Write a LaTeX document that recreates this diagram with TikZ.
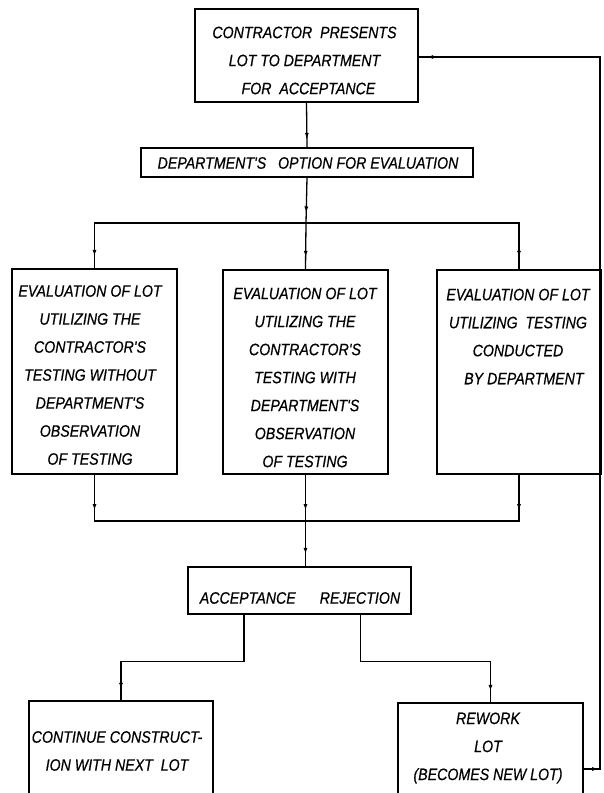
\documentclass[tikz,border=0pt]{standalone}
\usepackage{fontspec}
\newfontfamily\lett{Liberation Sans}[FakeStretch=0.86, FakeBold=0.6]
\usetikzlibrary{decorations.markings,arrows.meta}
\tikzset{
  fl/.style={line width=1.3pt},
  boxn/.style={draw, line width=1.3pt, inner sep=0pt},
  txt/.style={inner sep=0pt, align=center,
    font=\lett\itshape\fontsize{16.5}{28}\selectfont},
  arr/.style={postaction={decorate, decoration={markings,
    mark=at position #1 with {\arrow{Latex[length=6.5pt,width=4pt]}}}}}
}
\begin{document}
\begin{tikzpicture}[x=1pt,y=-1pt]
\useasboundingbox (0,0) rectangle (604,793);
\clip (0,0) rectangle (604,793);
% boxes
\node[boxn, minimum width=223pt, minimum height=93pt] (top) at (306.5,55.5) {};
\node[boxn, minimum width=332pt, minimum height=29pt] (opt) at (307,162.5) {};
\node[boxn, minimum width=165pt, minimum height=205pt] (e1) at (94.5,371.5) {};
\node[boxn, minimum width=165pt, minimum height=204pt] (e2) at (305.5,372) {};
\node[boxn, minimum width=164pt, minimum height=204pt] (e3) at (519,372) {};
\node[boxn, minimum width=223pt, minimum height=47pt] (acc) at (299.5,590.5) {};
\node[boxn, minimum width=184pt, minimum height=100pt] (cont) at (121,751) {};
\node[boxn, minimum width=185pt, minimum height=92pt] (rew) at (490.5,749) {};
% texts
\node[txt] (toptext) at (304.5,60.5)
  {CONTRACTOR\ \ PRESENTS\\LOT TO DEPARTMENT\\\ \ FOR\ \ ACCEPTANCE};
\node[txt] (opttext) at (308,163)
  {DEPARTMENT'S\ \ \ OPTION FOR EVALUATION};
\node[txt] (e1text) at (90,375)
  {EVALUATION OF LOT\\UTILIZING THE\\CONTRACTOR'S\\TESTING WITHOUT\\DEPARTMENT'S\\OBSERVATION\\OF TESTING};
\node[txt] (e2text) at (305,377.5)
  {EVALUATION OF LOT\\UTILIZING THE\\CONTRACTOR'S\\TESTING WITH\\DEPARTMENT'S\\OBSERVATION\\OF TESTING};
\node[txt] (e3text) at (518,336.5)
  {EVALUATION OF LOT\\UTILIZING\ \ TESTING\\CONDUCTED\\\ \ \ BY DEPARTMENT};
\node[txt] (acctext) at (300,598)
  {ACCEPTANCE\hspace{24pt}REJECTION};
\node[txt] (conttext) at (117,751)
  {CONTINUE CONSTRUCT-\\ION WITH NEXT\ \ LOT};
\node[txt] (rewtext) at (488,748)
  {REWORK\\LOT\\(BECOMES NEW LOT)};
% connectors
\coordinate (j1) at (306,223);
\coordinate (j2) at (306,521);
\coordinate (rc1) at (600,769);
\coordinate (rc2) at (600,57);
\draw[fl, arr=-8pt] (top.south) -- (opt.north);
\draw[fl, arr=-10pt] (opt.south) -- (j1);
\draw[fl, arr=-12pt] (j1) -| (e1.north);
\draw[fl, arr=-12pt] (j1) -- (e2.north);
\draw[fl, arr=-12pt] (j1) -| (e3.north);
\draw[fl, arr=36pt] (e1.south) |- (j2);
\draw[fl, arr=36pt] (e3.south) |- (j2);
\draw[fl, arr=36pt, arr=-12pt] (e2.south) -- (e2.south |- acc.north);
\draw[fl, arr=-11pt] ([xshift=-55.5pt]acc.south) -- ++(0,47) -| (cont.north);
\draw[fl, arr=-11pt] ([xshift=61pt]acc.south) -- ++(0,47) -| (rew.north);
\draw[fl, arr=15pt, arr=-8pt] ([yshift=-20pt]rew.east) -- (rc1) -- (rc2) -- (top.east |- rc2);
\end{tikzpicture}
\end{document}
